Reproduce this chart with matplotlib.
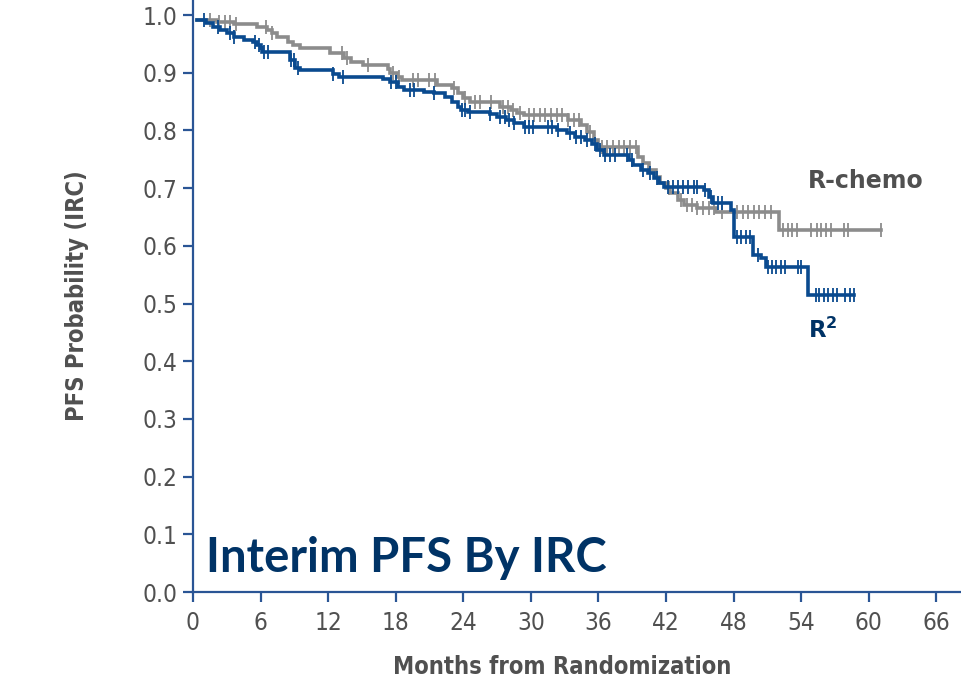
import numpy as np
import matplotlib
matplotlib.use("Agg")
import matplotlib.pyplot as plt

# Kaplan-Meier step data (months, PFS probability)
rchemo_t = [0.4, 2.1, 3.6, 5.7, 6.6, 7.0, 7.5, 8.4, 8.9, 9.5, 12.2, 13.4, 14.0, 15.1,
            17.3, 17.5, 18.1, 18.6, 21.7, 23.0, 23.5, 24.0, 24.6, 27.3, 28.2, 28.8,
            29.4, 33.3, 34.5, 35.0, 35.6, 36.0, 39.5, 40.0, 40.5, 41.1, 41.5, 42.0,
            42.4, 43.1, 43.6, 44.8, 46.4, 52.0]
rchemo_s = [0.991, 0.988, 0.984, 0.979, 0.974, 0.969, 0.962, 0.953, 0.948, 0.943, 0.934,
            0.925, 0.919, 0.913, 0.907, 0.900, 0.893, 0.887, 0.879, 0.873, 0.865, 0.856,
            0.849, 0.841, 0.835, 0.830, 0.826, 0.818, 0.809, 0.797, 0.783, 0.771, 0.754,
            0.743, 0.731, 0.719, 0.709, 0.700, 0.691, 0.679, 0.671, 0.666, 0.658, 0.627]
rchemo_end = 61.1
rchemo_cens = [1.5, 2.3, 2.8, 3.3, 3.8, 6.5, 7.0, 13.2, 13.7, 15.5, 17.8, 18.3, 19.5,
               20.0, 21.0, 21.5, 23.2, 24.2, 25.0, 25.5, 26.5, 27.5, 28.0, 28.4, 29.0,
               29.8, 30.3, 30.8, 31.3, 31.8, 32.3, 32.8, 33.3, 33.8, 34.3, 35.3, 36.3,
               36.8, 37.3, 37.8, 38.3, 38.8, 39.3, 42.3, 43.3, 43.9, 44.3, 44.8, 45.3,
               45.8, 46.3, 47.0, 48.3, 48.8, 49.3, 49.8, 50.3, 50.8, 51.3, 52.4, 52.8,
               53.2, 53.6, 54.9, 55.4, 55.8, 56.2, 56.7, 57.8, 58.2, 61.1]

r2_t = [0.4, 1.2, 1.8, 2.4, 3.0, 3.6, 4.5, 5.3, 5.7, 6.0, 6.1, 8.6, 9.1, 9.5, 12.4,
        13.0, 16.9, 17.5, 18.2, 18.7, 20.5, 21.4, 22.4, 23.0, 23.5, 23.8, 24.4, 26.4,
        27.0, 27.8, 28.5, 29.4, 32.3, 33.2, 33.9, 34.8, 35.4, 35.9, 36.5, 38.7, 39.1,
        39.8, 40.4, 40.9, 41.4, 41.8, 45.4, 45.8, 46.2, 47.8, 48.0, 49.7, 50.4, 50.9,
        54.6]
r2_s = [0.991, 0.986, 0.980, 0.974, 0.969, 0.962, 0.957, 0.953, 0.948, 0.943, 0.936,
        0.922, 0.908, 0.905, 0.898, 0.893, 0.889, 0.884, 0.875, 0.870, 0.867, 0.865,
        0.858, 0.849, 0.841, 0.835, 0.832, 0.829, 0.823, 0.818, 0.813, 0.806, 0.800,
        0.795, 0.788, 0.783, 0.777, 0.766, 0.757, 0.749, 0.740, 0.731, 0.726, 0.717,
        0.709, 0.702, 0.697, 0.685, 0.674, 0.662, 0.615, 0.584, 0.579, 0.563, 0.515]
r2_end = 58.7
r2_cens = [1.0, 2.2, 3.3, 3.6, 5.5, 5.9, 6.3, 6.7, 8.7, 9.0, 9.3, 12.4, 13.3, 17.6,
           18.0, 19.3, 19.6, 21.4, 23.9, 24.2, 24.6, 26.4, 27.3, 27.7, 28.1, 28.5,
           29.5, 29.8, 30.2, 31.5, 31.9, 32.4, 33.5, 34.0, 34.5, 35.0, 35.7, 36.1,
           36.6, 37.0, 37.5, 38.5, 39.0, 40.0, 40.6, 41.2, 42.2, 42.6, 43.1, 43.5,
           44.0, 44.5, 44.8, 45.5, 46.0, 46.6, 47.0, 48.3, 48.7, 49.1, 49.5, 50.2,
           51.1, 51.4, 51.8, 52.2, 52.6, 53.7, 54.0, 55.3, 55.6, 56.0, 56.4, 56.8,
           57.2, 57.9, 58.3, 58.7]

x_ticks = list(range(0, 67, 6))
y_ticks = [round(0.1 * i, 1) for i in range(11)]

GRAY = "#8c8c8c"
BLUE = "#0a4a8f"
NAVY = "#003366"
SPINE = "#2a5595"
TXT = "#505050"

plt.rcParams['font.family'] = ['DejaVu Sans']


def draw_km(ax, t, s, end, cens, color):
    t = np.array(t + [end])
    s = np.array(s + [s[-1]])
    ax.step(t, s, where='post', color=color, lw=2.6, solid_joinstyle='miter')
    c = np.array(cens)
    idx = np.searchsorted(t, c, side='right') - 1
    ax.plot(c, s[idx], ls='none', marker='|', ms=10, mew=1.3, color=color)


fig = plt.figure(figsize=(9.61, 6.84), dpi=100)
ax = fig.add_axes([0.2008, 0.1345, 0.7992, 0.8655])

draw_km(ax, rchemo_t, rchemo_s, rchemo_end, rchemo_cens, GRAY)
draw_km(ax, r2_t, r2_s, r2_end, r2_cens, BLUE)

ax.set_xlim(0, 68.2)
ax.set_ylim(0, 1.026)
ax.set_xticks(x_ticks)
ax.set_yticks(y_ticks)
ax.set_yticklabels([f"{v:.1f}" for v in y_ticks])

for side in ['top', 'right']:
    ax.spines[side].set_visible(False)
for side in ['left', 'bottom']:
    ax.spines[side].set_color(SPINE)
    ax.spines[side].set_linewidth(1.6)
ax.tick_params(direction='out', length=7, width=1.6, color=SPINE,
               labelcolor=TXT, labelsize=17.5)
ax.tick_params(axis='x', pad=7)
ax.tick_params(axis='y', pad=4)
for lab in ax.get_xticklabels() + ax.get_yticklabels():
    lab.set_fontstretch('condensed')

ax.set_xlabel("Months from Randomization", fontsize=17, fontweight='bold',
              color=TXT, fontstretch='condensed')
ax.xaxis.set_label_coords(0.481, -0.106)
ax.set_ylabel("PFS Probability (IRC)", fontsize=17, fontweight='bold',
              color=TXT, fontstretch='condensed')
ax.yaxis.set_label_coords(-0.136, 0.5)

ax.text(1.2, 0.035, "Interim PFS By IRC", fontsize=34, fontweight='bold',
        color=NAVY, family=['Lato', 'DejaVu Sans'], va='baseline')
ax.text(54.6, 0.712, "R-chemo", fontsize=17, fontweight='bold', color=TXT, va='center')
ax.text(54.6, 0.454, "R$^\\mathbf{2}$", fontsize=16.5, fontweight='bold', color=NAVY, va='center')

fig.savefig("out.png", dpi=100)
